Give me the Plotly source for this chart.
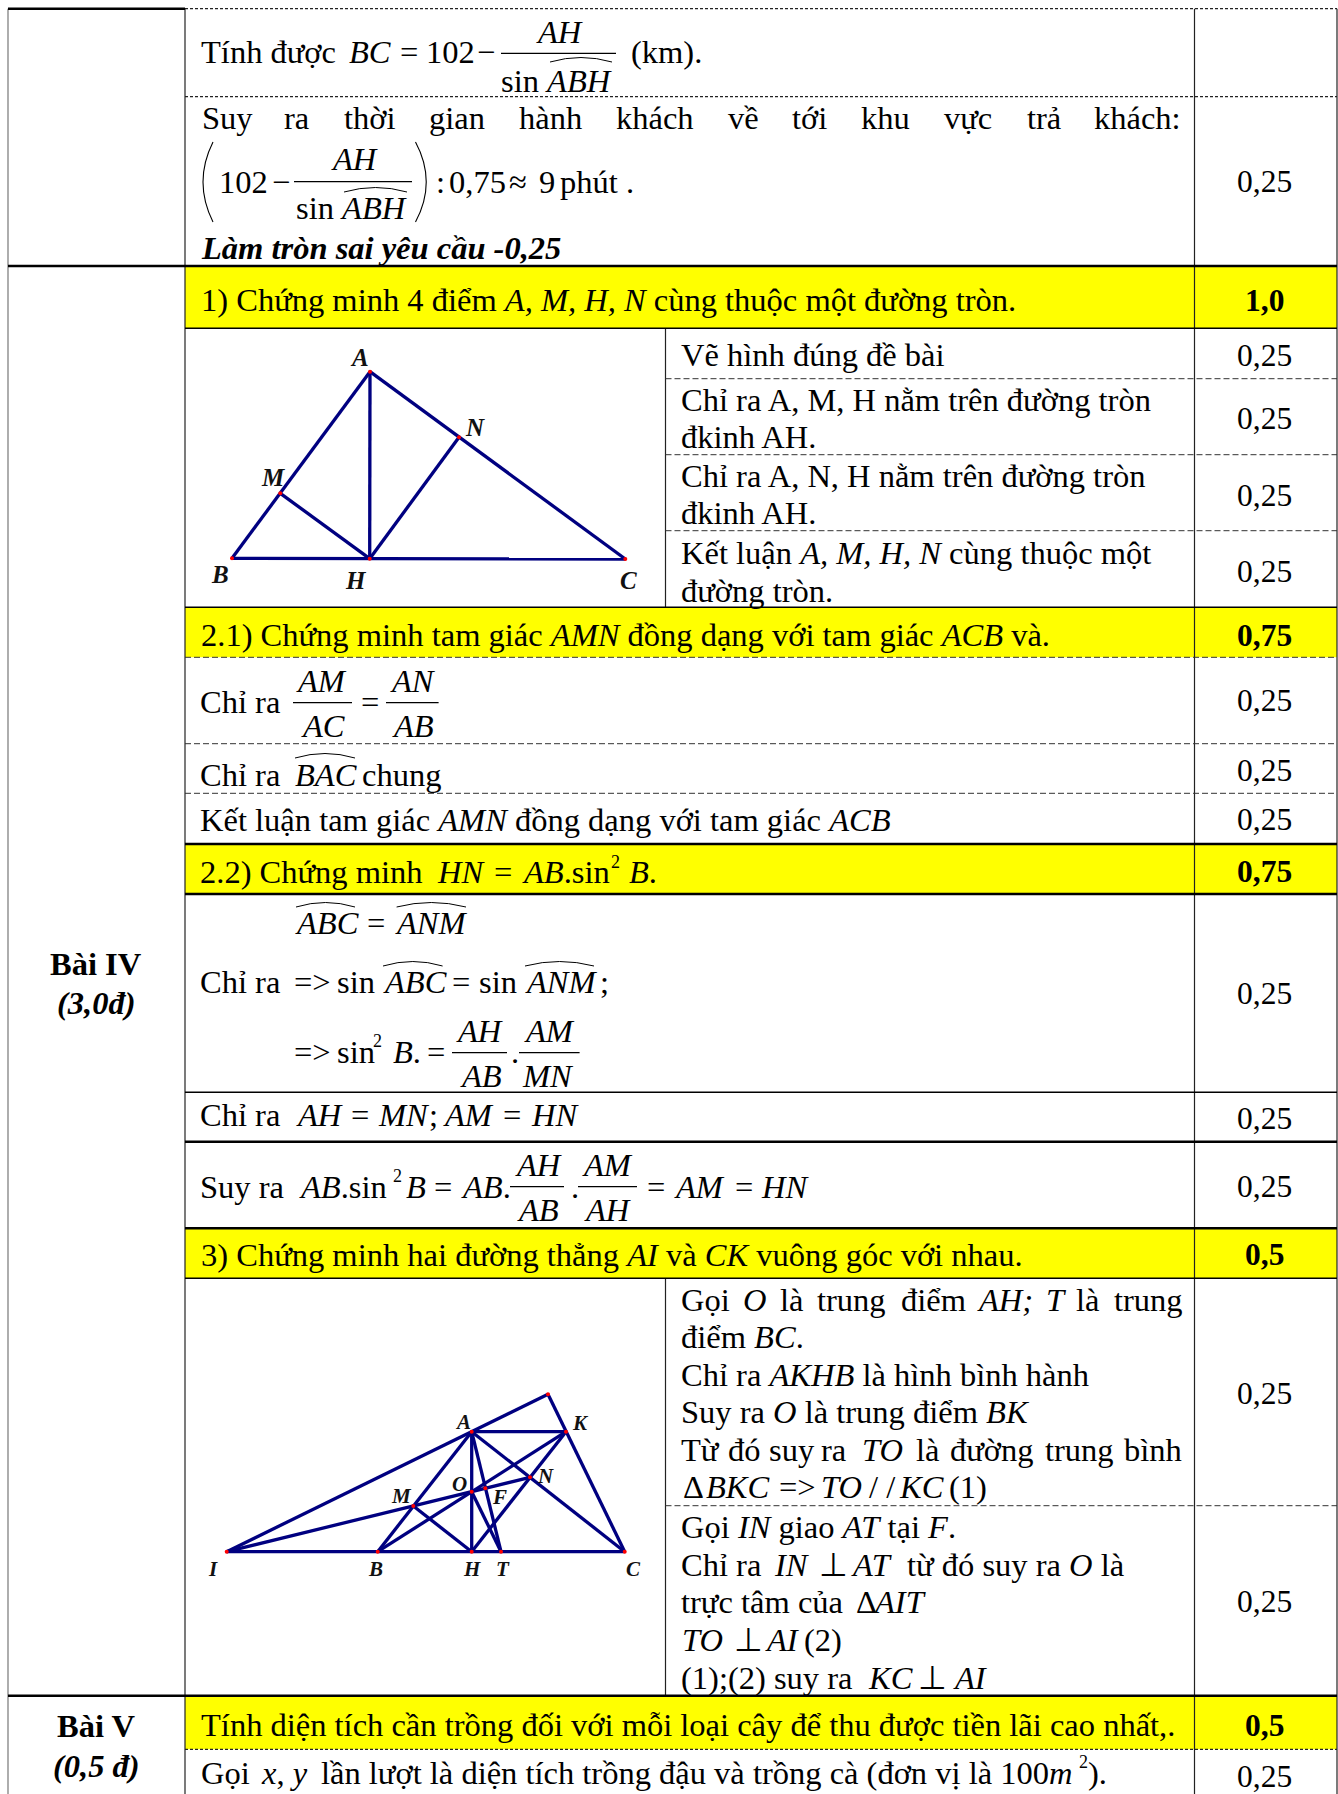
import plotly.graph_objects as go

SERIF = "Liberation Serif"
SIZE = 32.5

# table rules, in page pixels
col_left, col_main, col_split, col_score, col_right = 8, 185, 665.5, 1194.5, 1337
yellow_bands = [(266, 328.3), (607.3, 657.3), (844, 894), (1228.3, 1278.3), (1695.7, 1749.3)]
thick_rules = [(266, col_left, col_right), (1695.7, col_left, col_right), (8.7, col_left, col_main),
               (844, col_main, col_right), (894, col_main, col_right), (1141.7, col_main, col_right),
               (1228.3, col_main, col_right)]
thin_rules = [(328.3, col_main, col_right), (607.3, col_main, col_right), (1092.3, col_main, col_right),
              (1278.3, col_main, col_right)]
dash_rules = [(378.7, col_split, col_right), (454.7, col_split, col_right), (530.7, col_split, col_right),
              (657.3, col_main, col_right), (743.7, col_main, col_right), (793.3, col_main, col_right),
              (1505.7, col_split, col_right)]
dot_rules = [(8.7, col_main, col_right), (96.7, col_main, col_right), (1749.3, col_main, col_right)]

# score column
score_labels = ["0,25", "<b>1,0</b>", "0,25", "0,25", "0,25", "0,25", "<b>0,75</b>", "0,25", "0,25", "0,25",
                "<b>0,75</b>", "0,25", "0,25", "0,25", "<b>0,5</b>", "0,25", "0,25", "<b>0,5</b>", "0,25"]
score_y = [181.7, 300, 355, 418, 495, 571.7, 635, 700.5, 770, 819.5,
           871, 993.5, 1118, 1186, 1254.5, 1393, 1601.3, 1725, 1776]

# section column
section_labels = ["<b>Bài IV</b>", "<b><i>(3,0đ)</i></b>", "<b>Bài V</b>", "<b><i>(0,5 đ)</i></b>"]
section_y = [964, 1003, 1726, 1766]

# justified lines, word by word
just_words = ["Suy", "ra", "thời", "gian", "hành", "khách", "về", "tới", "khu", "vực", "trả", "khách:"]
just_x = [200.5, 283, 343, 428, 518, 615, 727, 791, 860, 943, 1026, 1093]
just2_words = ["Gọi", "<i>O</i>", "là", "trung", "điểm", "<i>AH;</i>", "<i>T</i>", "là", "trung"]
just2_x = [680, 742, 779, 815.6, 900, 975.6, 1045, 1075, 1113]
just3_words = ["Từ", "đó", "suy", "ra", "<i>TO</i>", "là", "đường", "trung", "bình"]
just3_x = [680, 727, 768, 820, 861, 915, 949, 1044, 1122.6]

# main column text, left aligned
main_text = ["Tính được", "<i>BC</i>", "=", "102", "−", "(km).",
             "102", "−", ":", "0,75", "≈", "9", "phút", ".",
             "<b><i>Làm tròn sai yêu cầu -0,25</i></b>",
             "1) Chứng minh 4 điểm <i>A, M, H, N</i> cùng thuộc một đường tròn.",
             "2.1) Chứng minh tam giác <i>AMN</i> đồng dạng với tam giác <i>ACB</i> và.",
             "Chỉ ra", "=",
             "Chỉ ra", "<i>BAC</i>", "chung",
             "Kết luận tam giác <i>AMN</i> đồng dạng với tam giác <i>ACB</i>",
             "2.2) Chứng minh", "<i>HN</i>", "=", "<i>AB</i>.sin", "<i>B</i>.",
             "<i>ABC</i>", "=", "<i>ANM</i>",
             "Chỉ ra", "=&gt;", "sin", "<i>ABC</i>", "=", "sin", "<i>ANM</i>", ";",
             "=&gt;", "sin", "<i>B</i>.", "=", ".",
             "Chỉ ra", "<i>AH</i>", "=", "<i>MN</i>", ";", "<i>AM</i>", "=", "<i>HN</i>",
             "Suy ra", "<i>AB</i>.sin", "<i>B</i>", "=", "<i>AB</i>.", ".", "=", "<i>AM</i>", "=", "<i>HN</i>",
             "3) Chứng minh hai đường thẳng <i>AI</i> và <i>CK</i> vuông góc với nhau.",
             "Tính diện tích cần trồng đối với mỗi loại cây để thu được tiền lãi cao nhất,.",
             "Gọi", "<i>x</i>, <i>y</i>", "lần lượt là diện tích trồng đậu và trồng cà (đơn vị là 100<i>m</i>", ")."]
main_x = [200, 348, 399, 425, 476, 630,
          217.6, 271, 435, 448, 507.7, 537.5, 559, 625.4,
          200,
          200,
          200,
          199, 359.5,
          199, 294, 361,
          199,
          199, 436, 492.6, 520.7, 628,
          294, 366, 394,
          199, 292.6, 336, 382, 451, 478, 524, 599,
          292.6, 336, 392, 425.6, 510.4,
          199, 295, 350, 376.5, 428, 442, 501.5, 529.6,
          199, 298.4, 404.6, 433, 460, 570, 645.7, 672.5, 733.6, 760,
          200,
          200,
          200, 260, 320, 1087]
main_y = [52, 52, 52, 52, 52, 52,
          182, 182, 182, 182, 182, 182, 182, 182,
          248,
          300,
          635,
          702, 702,
          775, 775, 775,
          820,
          871.7, 871.7, 871.7, 871.7, 871.7,
          923, 923, 923,
          982, 982, 982, 982, 982, 982, 982, 982,
          1052, 1052, 1052, 1052, 1052,
          1115, 1115, 1115, 1115, 1115, 1115, 1115, 1115,
          1187, 1187, 1187, 1187, 1187, 1187, 1187, 1187, 1187, 1187,
          1254.5,
          1725,
          1773, 1773, 1773, 1773]

# small exponents
exp_text = ["2", "2", "2", "2"]
exp_x = [610, 372, 392, 1078]
exp_y = [862, 1041, 1176, 1762]

# numerators and denominators, centred over their bars
frac_text = ["<i>AH</i>", "sin <i>ABH</i>", "<i>AH</i>", "sin <i>ABH</i>", "<i>AM</i>", "<i>AC</i>", "<i>AN</i>", "<i>AB</i>",
             "<i>AH</i>", "<i>AB</i>", "<i>AM</i>", "<i>MN</i>", "<i>AH</i>", "<i>AB</i>", "<i>AM</i>", "<i>AH</i>"]
frac_x = [559, 556, 354, 351.5, 321.6, 323.4, 413, 413, 479.6, 480.5, 549, 547.5, 538, 538, 607, 607]
frac_y = [32, 81, 159, 208, 681, 726, 681, 726, 1031, 1076, 1031, 1076, 1165, 1210, 1165, 1210]

# side column text
side_text = ["Vẽ hình đúng đề bài", "Chỉ ra A, M, H nằm trên đường tròn", "đkinh AH.",
             "Chỉ ra A, N, H nằm trên đường tròn", "đkinh AH.",
             "Kết luận <i>A, M, H, N</i> cùng thuộc một", "đường tròn.",
             "điểm <i>BC</i>.", "Chỉ ra <i>AKHB</i> là hình bình hành", "Suy ra <i>O</i> là trung điểm <i>BK</i>",
             "Δ", "<i>BKC</i>", "=&gt;", "<i>TO</i>", "/ /", "<i>KC</i>", "(1)",
             "Gọi <i>IN</i> giao <i>AT</i> tại <i>F</i>.",
             "Chỉ ra", "<i>IN</i>", "⊥", "<i>AT</i>", "từ đó suy ra <i>O</i> là",
             "trực tâm của", "Δ", "<i>AIT</i>",
             "<i>TO</i>", "⊥", "<i>AI</i>", "(2)",
             "(1);(2) suy ra", "<i>KC</i>", "⊥", "<i>AI</i>"]
side_x = [680, 680, 680, 680, 680, 680, 680, 680, 680, 680,
          682, 705, 777.6, 820, 867.5, 898, 947.5,
          680,
          680, 773, 818, 850, 905.6,
          680, 855, 872,
          681, 732.6, 763.8, 802.7,
          680, 866.7, 917, 952]
side_y = [355, 400, 437, 476, 513, 553, 591, 1337, 1375, 1412,
          1487, 1487, 1487, 1487, 1487, 1487, 1487,
          1527,
          1565, 1565, 1565, 1565, 1565,
          1602, 1602, 1602,
          1640, 1640, 1640, 1640,
          1678, 1678, 1678, 1678]

# fraction bars and angle hats
bars = [(501, 616, 53.3), (294, 412, 181.7), (293, 352, 702.7), (386, 438.6, 702.7), (452, 507, 1052.7),
        (519, 579.6, 1052.7), (510, 564, 1186.7), (578, 637, 1186.7)]
hats = [(550, 612, 62), (344, 407, 192), (295, 355, 758), (296, 355, 907), (396.6, 466, 907),
        (383, 442.6, 966), (525, 594, 966)]

# figure 1 (triangle ABC)
fig1_pts = {"A": (370, 371.7), "B": (232, 558.3), "C": (625.3, 559), "H": (369.7, 558.7),
            "M": (280.3, 493.3), "N": (459, 437.3)}
fig1_edges = ["AB", "AC", "BC", "AH", "HM", "HN"]
fig1_label_names = ["A", "N", "M", "B", "H", "C"]
fig1_label_x = [359.3, 475, 273.3, 220, 356, 628.7]
fig1_label_y = [357.3, 427.7, 477.3, 574, 580, 580]

# figure 2 (with I, K, O, T, F)
fig2_pts = {"P": (548, 1394.3), "A": (471.7, 1431.7), "K": (566, 1431.7), "I": (226.7, 1551.7),
            "B": (377.7, 1551.7), "H": (471.7, 1551.7), "T": (501, 1551.7), "C": (624.7, 1551.7),
            "O": (471.7, 1491.7), "M": (413.3, 1506), "N": (530, 1477.3), "F": (485.3, 1488.3)}
fig2_edges = ["IP", "PC", "AK", "IC", "AB", "AH", "AT", "AC", "BK", "HK", "HM", "IN", "OT"]
fig2_label_names = ["A", "K", "O", "N", "M", "F", "I", "B", "H", "T", "C"]
fig2_label_x = [463.3, 580.7, 459, 545.7, 401.7, 499, 212.7, 375.7, 471.7, 502.7, 633.3]
fig2_label_y = [1421.7, 1422.7, 1484.3, 1476, 1496, 1497.3, 1569.3, 1569.3, 1569.3, 1569.3, 1569.3]


fig = go.Figure()


def add_segments(xs, ys, color, width, dash="solid"):
    fig.add_trace(go.Scatter(x=xs, y=ys, mode="lines", hoverinfo="skip",
                             line=dict(color=color, width=width, dash=dash)))


def rules(items, color, width, dash="solid"):
    xs, ys = [], []
    for y, x0, x1 in items:
        xs += [x0, x1, None]
        ys += [y, y, None]
    add_segments(xs, ys, color, width, dash)


def label(x, y, s, size=SIZE, anchor="left", color="black"):
    fig.add_annotation(x=x, y=y, text=s, showarrow=False, xanchor=anchor, yanchor="middle",
                       borderpad=0, font=dict(family=SERIF, size=size, color=color))


def geometry(pts, edges, names, lx, ly, size):
    xs, ys = [], []
    for e in edges:
        xs += [pts[e[0]][0], pts[e[1]][0], None]
        ys += [pts[e[0]][1], pts[e[1]][1], None]
    add_segments(xs, ys, "#000080", 3.3)
    fig.add_trace(go.Scatter(x=[p[0] for p in pts.values()], y=[p[1] for p in pts.values()], mode="markers",
                             hoverinfo="skip", marker=dict(color="#ff0000", size=4)))
    for n, x, y in zip(names, lx, ly):
        label(x, y, "<b><i>" + n + "</i></b>", size, "center", "#111111")


for y0, y1 in yellow_bands:
    fig.add_shape(type="rect", x0=col_main, x1=col_right, y0=y0, y1=y1, fillcolor="#ffff00",
                  line_width=0, layer="below")

# vertical rules
add_segments([col_left, col_left], [8.7, 1794], "#777777", 1.2)
add_segments([col_main, col_main, None, col_score, col_score, None, col_right, col_right],
             [8.7, 1794, None, 8.7, 1794, None, 8.7, 1794], "#222222", 1.2)
add_segments([col_split, col_split, None, col_split, col_split], [328.3, 607.3, None, 1278.3, 1695.7], "#222222", 1.2)

rules(thick_rules, "#000000", 2.5)
rules(thin_rules, "#000000", 1.4)
rules(dash_rules, "#333333", 1, "6px,3px")
rules(dot_rules, "#222222", 1.3, "3px,2px")

xs, ys = [], []
for x0, x1, y in bars:
    xs += [x0, x1, None]
    ys += [y, y, None]
add_segments(xs, ys, "#000000", 1.3)

for x0, x1, y in hats:
    fig.add_shape(type="path", path=f"M {x0} {y} Q {(x0 + x1) / 2} {y - 9} {x1} {y}",
                  line=dict(color="#000000", width=1))
# big brackets of the second formula
fig.add_shape(type="path", path="M 213 142 Q 193 182 213 222", line=dict(color="#000000", width=1.1))
fig.add_shape(type="path", path="M 415.5 142 Q 437 182 415.5 222", line=dict(color="#000000", width=1.1))

geometry(fig1_pts, fig1_edges, fig1_label_names, fig1_label_x, fig1_label_y, 25)
geometry(fig2_pts, fig2_edges, fig2_label_names, fig2_label_x, fig2_label_y, 21)

for s, y in zip(score_labels, score_y):
    label(1264.5, y, s, size=31.5, anchor="center")
for s, y in zip(section_labels, section_y):
    label(96, y, s, anchor="center")
for s, x in zip(just_words, just_x):
    label(x, 118, s)
for s, x, y in zip(main_text, main_x, main_y):
    label(x, y, s)
for s, x, y in zip(exp_text, exp_x, exp_y):
    label(x, y, s, size=18)
for s, x, y in zip(frac_text, frac_x, frac_y):
    label(x, y, s, anchor="center")
for s, x, y in zip(side_text, side_x, side_y):
    label(x, y, s)
for s, x in zip(just2_words, just2_x):
    label(x, 1300, s)
for s, x in zip(just3_words, just3_x):
    label(x, 1450, s)

fig.update_layout(width=1338, height=1794, margin=dict(l=0, r=0, t=0, b=0), showlegend=False,
                  plot_bgcolor="white", paper_bgcolor="white", hovermode=False)
fig.update_xaxes(range=[0, 1338], visible=False, fixedrange=True)
fig.update_yaxes(range=[1794, 0], visible=False, fixedrange=True)

fig.write_html("out.html", config={"displayModeBar": False},
               post_script="document.body.style.margin='0';")
